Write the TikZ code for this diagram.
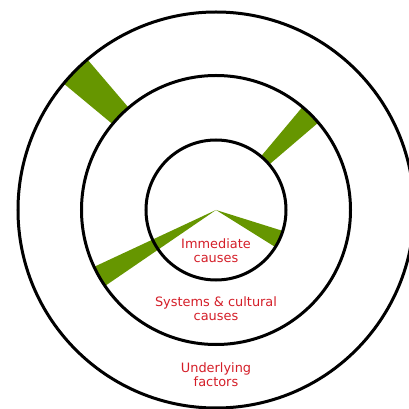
\documentclass[tikz,border=0pt]{standalone}
\usepackage{fontspec}
\setmainfont{DejaVu Sans}
\definecolor{leafgreen}{RGB}{102,150,0}
\definecolor{causered}{RGB}{212,30,40}
\tikzset{
  ring/.style={line width=3pt, draw=black},
  hole/.style={fill=leafgreen},
  layerlabel/.style={text=causered, align=center, inner sep=0pt, font=\fontsize{12.9}{14}\selectfont}
}
\begin{document}
\begin{tikzpicture}[x=1pt, y=1pt]
  \useasboundingbox (-216,-199) rectangle (193,210);
  \coordinate (O) at (0,0);

  % Holes through the layers
  \fill[hole] (130.5:134.5) arc[start angle=130.5, end angle=140.3, radius=134.5]
    -- (140.3:198) arc[start angle=140.3, end angle=130.5, radius=198] -- cycle;
  \fill[hole] (40.5:70) arc[start angle=40.5, end angle=50, radius=70]
    -- (50:134.5) arc[start angle=50, end angle=40.5, radius=134.5] -- cycle;
  \fill[hole] (O) -- (205:134.5) arc[start angle=205, end angle=214.4, radius=134.5] -- cycle;
  \fill[hole] (O) -- (-32:70) arc[start angle=-32, end angle=-17.4, radius=70] -- cycle;

  % Layers
  \draw[ring] (O) circle (198);
  \draw[ring] (O) circle (134.5);
  \draw[ring] (O) circle (70);

  % Labels
  \node[layerlabel] (immediate) at (0,-41) {Immediate\\causes};
  \node[layerlabel] (systems) at (0,-99) {Systems \& cultural\\causes};
  \node[layerlabel] (underlying) at (0,-165) {Underlying\\factors};
\end{tikzpicture}
\end{document}
